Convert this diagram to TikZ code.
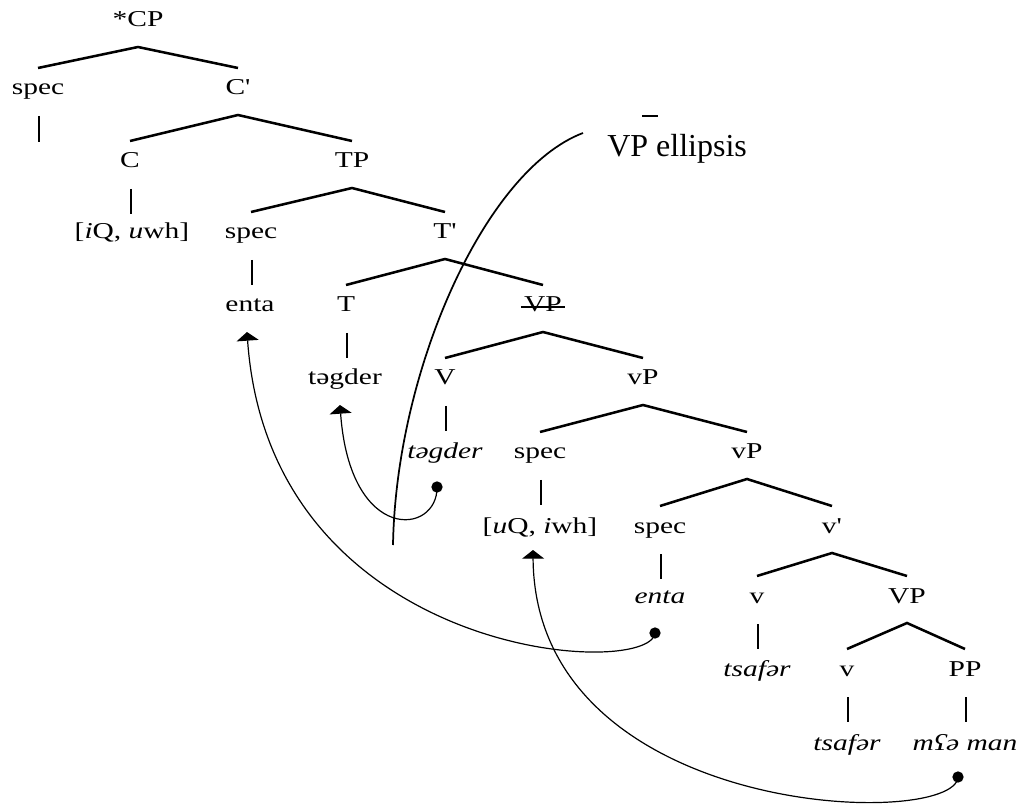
\documentclass[tikz,border=0pt]{standalone}
\usepackage{fontspec}
\setmainfont{Liberation Serif}
\newfontfamily\treefont[FakeStretch=1.3]{Liberation Serif}
\usetikzlibrary{arrows.meta,calc}
\begin{document}
\begin{tikzpicture}[x=0.75pt,y=-0.75pt,
  lbl/.style={font=\treefont\fontsize{17pt}{20pt}\selectfont, inner sep=0pt, anchor=base},
  ilbl/.style={lbl, font=\treefont\itshape\fontsize{17pt}{20pt}\selectfont},
  br/.style={line width=1.9pt},
  dotnode/.style={circle, fill=black, inner sep=0pt, minimum size=8.5pt},
  mv/.style={line width=0.9pt, -{Triangle[width=16.5pt,length=6.5pt]}},
  ell/.style={line width=1.3pt}
]
\useasboundingbox (0,0) rectangle (1032,805);

% nodes
\node[lbl] (cp) at (138,27) {*CP};
\node[lbl] (spec1) at (38,95) {spec};
\node[lbl] (cbar) at (238,95) {C'};
\node[lbl] (c) at (130,168) {C};
\node[lbl] (tp) at (352,168) {TP};
\node[lbl] (iq) at (132,239) {[\textit{i}Q, \textit{u}wh]};
\node[lbl] (spec2) at (251,239) {spec};
\node[lbl] (tbar) at (445,239) {T'};
\node[lbl] (enta1) at (250,312) {enta};
\node[lbl] (t) at (346,312) {T};
\node[lbl] (vp1) at (543,312) {VP};
\node[lbl] (tg1) at (345,385) {təgder};
\node[lbl] (v1) at (445,385) {V};
\node[lbl] (vp2) at (643,385) {vP};
\node[ilbl] (tg2) at (445,459) {təgder};
\node[lbl] (spec3) at (540,459) {spec};
\node[lbl] (vp3) at (747,459) {vP};
\node[lbl] (uq) at (540,533) {[\textit{u}Q, \textit{i}wh]};
\node[lbl] (spec4) at (660,533) {spec};
\node[lbl] (vbar) at (832,533) {v'};
\node[ilbl] (enta2) at (660,603) {enta};
\node[lbl] (v2) at (757,603) {v};
\node[lbl] (vp4) at (907,603) {VP};
\node[ilbl] (ts1) at (757,676) {tsafər};
\node[lbl] (v3) at (847,676) {v};
\node[lbl] (pp) at (965,676) {PP};
\node[ilbl] (ts2) at (847,750) {tsafər};
\node[ilbl] (mm) at (965,750) {mʕə man};

\node[anchor=base west, inner sep=0pt, font=\fontsize{24pt}{28pt}\selectfont] (ellipsis) at (607,157) {VP ellipsis};

% strike through VP
\draw[line width=1.1pt] ($(vp1.base west)+(-3,-5)$) -- ($(vp1.base east)+(3,-5)$);

% binary branches
\foreach \p/\l/\r in {cp/spec1/cbar, cbar/c/tp, tp/spec2/tbar, tbar/t/vp1, vp1/v1/vp2, vp2/spec3/vp3, vp3/spec4/vbar, vbar/v2/vp4, vp4/v3/pp}{
  \draw[br] ($(\l.base)+(0,-27)$) -- ($(\p.base)+(0,20)$) -- ($(\r.base)+(0,-27)$);
}
% unary bars
\draw[br] ($(spec1.base)+(1,21)$) -- ($(spec1.base)+(1,47)$);
\foreach \p in {c, spec2, t, v1, spec3, spec4, v2, v3, pp}{
  \draw[br] ($(\p.base)+(1,21)$) -- ($(\p.base)+(1,46)$);
}

% movement dots and tips
\node[dotnode] (d1) at ($(tg2.base)+(-8,28)$) {};
\node[dotnode] (d2) at ($(enta2.base)+(-5,30)$) {};
\node[dotnode] (d3) at ($(mm.base)+(-7,27)$) {};
\coordinate (a1) at ($(tg1.base)+(-5,20)$);
\coordinate (a2) at ($(enta1.base)+(-3,20)$);
\coordinate (a3) at ($(uq.base)+(-7,17)$);

\draw[mv] (d1.center) .. controls (438,535) and (350,545) .. (a1);
\draw[mv] (d2.center) .. controls (650,680) and (270,660) .. (a2);
\draw[mv] (d3.center) .. controls (955,830) and (535,820) .. (a3);

% VP ellipsis curve
\coordinate (e1) at (393,545);
\coordinate (e2) at (583,133);
\draw[ell] (e1) .. controls (396,370) and (485,170) .. (e2);
\draw[line width=0.8pt] (642,116) -- (658,116);
\end{tikzpicture}
\end{document}
